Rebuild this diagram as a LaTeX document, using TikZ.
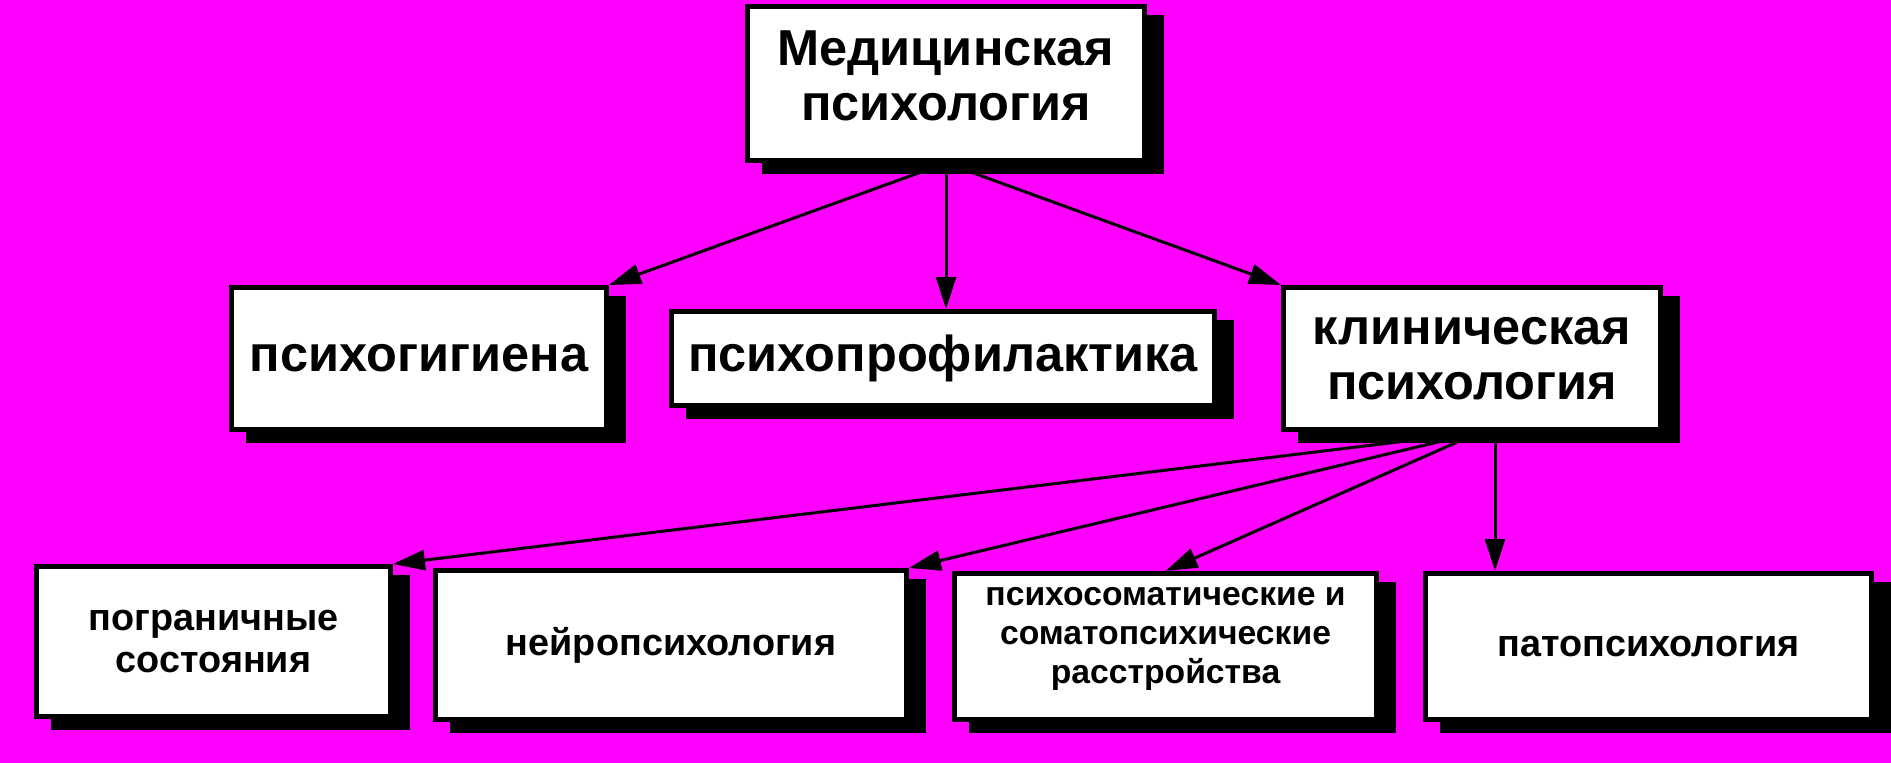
\documentclass[tikz,border=0pt]{standalone}
\usepackage{fontspec}
\setmainfont{Liberation Sans}
\usetikzlibrary{arrows.meta,shadows}

\definecolor{bgpink}{RGB}{255,0,255}

\begin{document}
\begin{tikzpicture}[x=1pt, y=-1pt, line width=3pt,
    box/.style={draw=black, fill=white, line width=5pt, align=center, inner sep=0pt,
        drop shadow={shadow xshift=17pt, shadow yshift=-11pt, fill=black, draw=black, opacity=1}},
    big/.style={font=\fontsize{50.5}{55}\selectfont\bfseries},
    small/.style={font=\fontsize{37.8}{42}\selectfont\bfseries},
    smallest/.style={font=\fontsize{33.7}{39}\selectfont\bfseries},
    arr/.style={-{Triangle[length=32pt,width=20pt]}}]
    \fill[bgpink] (0,0) rectangle (1891,763);

    % upper row
    \node[box, big, minimum width=397pt, minimum height=154pt, text depth=16pt] (med) at (946,83.5) {Медицинская\\психология};
    \node[box, big, minimum width=375pt, minimum height=142pt] (gig) at (419,358.5) {психогигиена};
    \node[box, big, minimum width=543pt, minimum height=94pt] (prof) at (943,358.5) {психопрофилактика};
    \node[box, big, minimum width=377pt, minimum height=142pt] (klin) at (1472,358.5) {клиническая\\психология};

    % lower row
    \node[box, small, minimum width=354pt, minimum height=150pt] (pogr) at (213.5,641.5) {пограничные\\состояния};
    \node[box, small, minimum width=471pt, minimum height=149pt] (neuro) at (671,645) {нейропсихология};
    \node[box, smallest, minimum width=422pt, minimum height=146pt, text depth=23pt] (soma) at (1165.5,646.5) {психосоматические и\\соматопсихические\\расстройства};
    \node[box, small, minimum width=446pt, minimum height=146pt] (pato) at (1648.5,646.5) {патопсихология};

    \draw[arr] (med.south) -- (gig.north east);
    \draw[arr] (med.south) -- (med.south |- prof.north);
    \draw[arr] (med.south) -- (klin.north west);

    \draw[arr] ([xshift=8pt]klin.south) -- (pogr.north east);
    \draw[arr] ([xshift=8pt]klin.south) -- (neuro.north east);
    \draw[arr] ([xshift=8pt]klin.south) -- (soma.north);
    \draw[arr] ([xshift=23pt]klin.south) -- ([xshift=23pt]klin.south |- pato.north);
\end{tikzpicture}
\end{document}
